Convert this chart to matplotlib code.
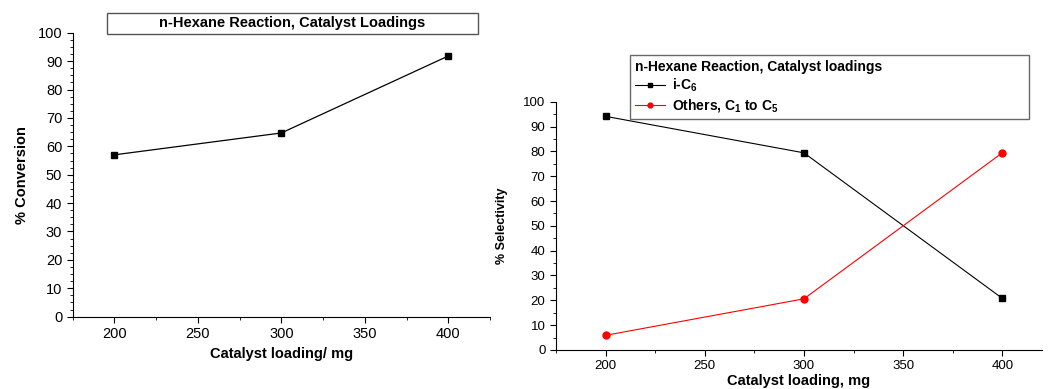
import matplotlib
matplotlib.use('Agg')
import matplotlib.pyplot as plt
import matplotlib.patches as patches
from matplotlib.ticker import MultipleLocator

plt.rcParams['font.family'] = ['Liberation Sans', 'DejaVu Sans']
plt.rcParams['mathtext.fontset'] = 'custom'
plt.rcParams['mathtext.rm'] = 'Liberation Sans:bold'
plt.rcParams['mathtext.default'] = 'rm'

# data
loading = [200, 300, 400]
conversion = [57.0, 64.7, 91.8]
sel_ic6 = [94.1, 79.4, 20.8]
sel_others = [5.9, 20.6, 79.4]

fig = plt.figure(figsize=(10.51, 3.89), dpi=100)

# left panel: conversion
ax1 = fig.add_axes([0.0692, 0.1859, 0.397, 0.730])
ax1.plot(loading, conversion, color='black', lw=0.9, marker='s', ms=4.5)
ax1.set_xlim(175, 425)
ax1.set_ylim(0, 100)
ax1.xaxis.set_major_locator(MultipleLocator(50))
ax1.xaxis.set_minor_locator(MultipleLocator(25))
ax1.yaxis.set_major_locator(MultipleLocator(10))
ax1.yaxis.set_minor_locator(MultipleLocator(2.5))
ax1.spines['top'].set_visible(False)
ax1.spines['right'].set_visible(False)
ax1.tick_params(which='both', direction='out', labelsize=10.5)
ax1.tick_params(which='major', length=4)
ax1.tick_params(which='minor', length=2)
ax1.set_xlabel('Catalyst loading/ mg', fontsize=10.5, fontweight='bold', labelpad=4)
ax1.set_ylabel('% Conversion', fontsize=10.5, fontweight='bold', labelpad=6)

fig.patches.append(patches.Rectangle((107/1051, 1-34/389), 371/1051, 21/389,
                                     transform=fig.transFigure, fill=False,
                                     edgecolor='#555555', lw=1))
fig.text(292.5/1051, 1-23.5/389, 'n-Hexane Reaction, Catalyst Loadings',
         ha='center', va='center', fontsize=10.5, fontweight='bold')

# right panel: selectivity
ax2 = fig.add_axes([0.529, 0.1003, 0.4624, 0.6383])
ax2.plot(loading, sel_ic6, color='black', lw=0.8, marker='s', ms=5, label='i-C$_6$')
ax2.plot(loading, sel_others, color='red', lw=0.8, marker='o', ms=5,
         label='Others, C$_1$ to C$_5$')
ax2.set_xlim(175, 420)
ax2.set_ylim(0, 100)
ax2.xaxis.set_major_locator(MultipleLocator(50))
ax2.xaxis.set_minor_locator(MultipleLocator(25))
ax2.yaxis.set_major_locator(MultipleLocator(10))
ax2.yaxis.set_minor_locator(MultipleLocator(5))
ax2.spines['top'].set_visible(False)
ax2.spines['right'].set_visible(False)
ax2.tick_params(which='both', direction='out', labelsize=9.5)
ax2.tick_params(which='major', length=4)
ax2.tick_params(which='minor', length=2)
ax2.set_xlabel('Catalyst loading, mg', fontsize=10.5, fontweight='bold', labelpad=1)
ax2.set_ylabel('% Selectivity', fontsize=9, fontweight='bold', labelpad=11)

leg = ax2.legend(loc='upper left', bbox_to_anchor=(630/1051, 1-59.3/389, 399/1051, 0.01),
                 bbox_transform=fig.transFigure, mode='expand', frameon=True,
                 fancybox=False, edgecolor='#444444', title='n-Hexane Reaction, Catalyst loadings',
                 alignment='left', prop={'weight': 'bold', 'size': 10},
                 handlelength=2.2, handletextpad=0.5, labelspacing=0.2,
                 borderpad=0.35, borderaxespad=0, markerscale=0.7)
leg.get_title().set_fontweight('bold')
leg.get_title().set_fontsize(10)
leg.get_frame().set_linewidth(1)

fig.savefig('out.png', dpi=100)
